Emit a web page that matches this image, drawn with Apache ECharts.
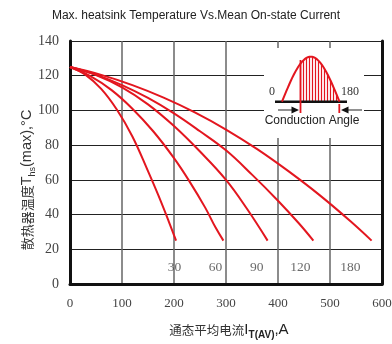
<!DOCTYPE html>
<html><head><meta charset="utf-8">
<script src="https://cdn.jsdelivr.net/npm/echarts@6.0.0/dist/echarts.min.js"></script>
<style>html,body{margin:0;padding:0;background:#fff}#c{width:392px;height:344px}</style>
</head><body><div id="c"></div>
<script>
const titleText = 'Max. heatsink Temperature Vs.Mean On-state Current';
const angleLabels = ['30', '60', '90', '120', '180'];
const curve30 = [[0,125],[30,120.5],[60,112.4],[90,100.5],[120,85],[150,65],[170,51],[190,36],[204,25]];
const curve60 = [[0,125],[40,119.6],[80,111.7],[120,101],[160,88],[200,72.5],[230,59],[260,44],[280,32.5],[295,25]];
const curve90 = [[0,125],[50,120.4],[100,113.3],[150,103.5],[200,91],[250,76.3],[300,60],[340,43.5],[380,25]];
const curve120 = [[0,125],[50,120.6],[100,114.6],[150,107.2],[200,98.3],[250,88],[300,77],[350,63],[400,48],[440,35],[468,25]];
const curve180 = [[0,125],[60,120.5],[120,114.6],[180,107.4],[240,98.9],[300,89],[360,77.7],[420,65],[480,51.2],[540,36],[580,25]];
const curves = [curve30, curve60, curve90, curve120, curve180];
const labelX = [201, 280, 359, 443, 539];
const labelY = [9.5, 9.5, 9.5, 9.5, 9.5];
const xMin = 0, xMax = 600, xStep = 100;
const yMin = 0, yMax = 140, yStep = 20;

const RED = '#e3161f';
const chart = echarts.init(document.getElementById('c'), null, {renderer: 'canvas'});

const series = curves.map((c, i) => ({
  type: 'line', name: angleLabels[i], data: c, symbol: 'none', smooth: 0.4,
  lineStyle: {color: RED, width: 2}, z: 3, silent: true
}));
series.push({
  type: 'scatter', symbolSize: 0, silent: true, z: 4,
  data: labelX.map((x, i) => ({value: [x, labelY[i]], name: angleLabels[i]})),
  label: {show: true, position: 'inside', formatter: p => p.name,
    fontFamily: 'Liberation Serif', fontSize: 13.5, color: '#444'}
});

// inset geometry (decorative)
const base = 101.7, sx0 = 282, sx1 = 339.5, amp = 45;
const sinePts = [];
for (let i = 0; i <= 40; i++) {
  sinePts.push([sx0 + (sx1 - sx0) * i / 40, base - amp * Math.sin(Math.PI * i / 40)]);
}
const inset = [];
inset.push({type: 'rect', shape: {x: 264, y: 48, width: 100, height: 90}, style: {fill: '#fff'}, z: 5});
for (let x = 300.5; x <= 339; x += 3) {
  const yt = base - amp * Math.sin(Math.PI * (x - sx0) / (sx1 - sx0));
  inset.push({type: 'line', shape: {x1: x, y1: base, x2: x, y2: yt}, style: {stroke: RED, lineWidth: 1.2}, z: 6});
}
inset.push({type: 'line', shape: {x1: 275, y1: base, x2: 347, y2: base}, style: {stroke: '#111', lineWidth: 2.5}, z: 7});
inset.push({type: 'polyline', shape: {points: sinePts}, style: {stroke: RED, lineWidth: 2, fill: null}, z: 8});
inset.push({type: 'line', shape: {x1: 300.5, y1: 60, x2: 300.5, y2: 113}, style: {stroke: RED, lineWidth: 1.8}, z: 8});
inset.push({type: 'line', shape: {x1: 339.3, y1: 104, x2: 339.3, y2: 113}, style: {stroke: RED, lineWidth: 1.8}, z: 8});
inset.push({type: 'line', shape: {x1: 278, y1: 110, x2: 293, y2: 110}, style: {stroke: '#222', lineWidth: 1}, z: 8});
inset.push({type: 'polygon', shape: {points: [[291.5, 106.5], [299, 110], [291.5, 113.5]]}, style: {fill: '#111'}, z: 8});
inset.push({type: 'line', shape: {x1: 347, y1: 110, x2: 362, y2: 110}, style: {stroke: '#222', lineWidth: 1}, z: 8});
inset.push({type: 'polygon', shape: {points: [[348.5, 106.5], [341, 110], [348.5, 113.5]]}, style: {fill: '#111'}, z: 8});
inset.push({type: 'text', x: 272, y: 92, style: {text: '0', font: '12px "Liberation Serif"', fill: '#333', align: 'center', verticalAlign: 'middle'}, z: 8});
inset.push({type: 'text', x: 350, y: 92, style: {text: '180', font: '12px "Liberation Serif"', fill: '#333', align: 'center', verticalAlign: 'middle'}, z: 8});
inset.push({type: 'text', x: 312, y: 121, style: {text: 'Conduction Angle', font: '12px "Liberation Sans"', fill: '#222', align: 'center', verticalAlign: 'middle'}, z: 8});

const axisNames = [
  {type: 'text', x: 27, y: 180, rotation: Math.PI / 2, z: 8,
    style: {text: '{a|散热器温度}{b|T}{s|hs}{b|(max),°C}', align: 'center', verticalAlign: 'middle',
      rich: {a: {fontFamily: 'Noto Sans CJK SC', fontSize: 13, fill: '#333', lineHeight: 20},
             b: {fontFamily: 'Liberation Sans', fontSize: 14.5, fill: '#333', lineHeight: 20},
             s: {fontFamily: 'Liberation Sans', fontSize: 9, fill: '#333', lineHeight: 20, verticalAlign: 'bottom'}}}},
  {type: 'text', x: 229, y: 330, z: 8,
    style: {text: '{a|通态平均电流}{b|I}{s|T(AV)}{b|,A}', align: 'center', verticalAlign: 'middle',
      rich: {a: {fontFamily: 'Noto Sans CJK SC', fontSize: 12.5, fill: '#333', lineHeight: 20},
             b: {fontFamily: 'Liberation Sans', fontSize: 15, fill: '#222', lineHeight: 20},
             s: {fontFamily: 'Liberation Sans', fontSize: 10, fontWeight: 'bold', fill: '#222', lineHeight: 20, verticalAlign: 'bottom'}}}}
];

chart.setOption({
  animation: false,
  backgroundColor: '#fff',
  title: {text: titleText, left: 'center', top: 5,
    textStyle: {fontFamily: 'Liberation Sans', fontSize: 12, fontWeight: 'normal', color: '#222'}},
  grid: {left: 70, right: 10, top: 41, bottom: 60, show: false, outerBoundsMode: 'none'},
  xAxis: {type: 'value', min: xMin, max: xMax, interval: xStep,
    axisLine: {show: true, onZero: false, lineStyle: {color: '#111', width: 3}},
    axisTick: {show: false},
    axisLabel: {fontFamily: 'Liberation Serif', fontSize: 13, color: '#444', margin: 13},
    splitLine: {show: true, lineStyle: {color: '#666', width: 1.5}}},
  yAxis: [
    {type: 'value', min: yMin, max: yMax, interval: yStep,
      axisLine: {show: true, onZero: false, lineStyle: {color: '#111', width: 3}},
      axisTick: {show: false},
      axisLabel: {fontFamily: 'Liberation Serif', fontSize: 14, color: '#444', margin: 11},
      splitLine: {show: true, lineStyle: {color: '#222', width: 1.2}}},
    {type: 'value', position: 'right', min: yMin, max: yMax, interval: yStep,
      axisLine: {show: true, onZero: false, lineStyle: {color: '#111', width: 3}},
      axisTick: {show: false}, axisLabel: {show: false}, splitLine: {show: false}}
  ],
  series: series,
  graphic: inset.concat(axisNames)
});
</script></body></html>
